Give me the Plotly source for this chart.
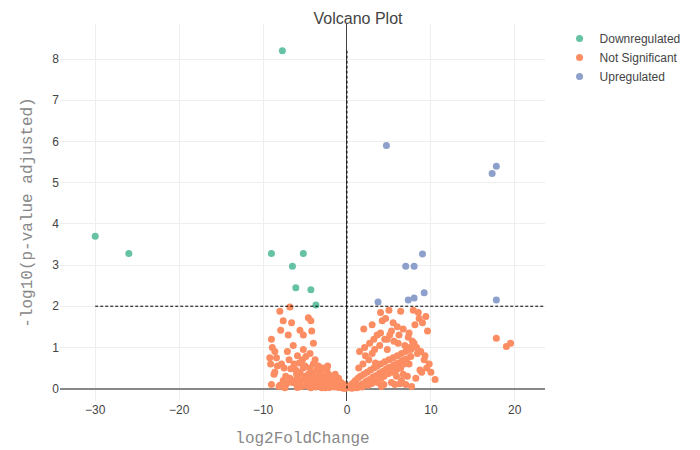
import plotly.graph_objects as go

down_x = [-7.7, -30, -26, -9, -5.2, -6.5, -6.1, -4.3, -3.7]
down_y = [8.2, 3.7, 3.28, 3.28, 3.28, 2.97, 2.45, 2.4, 2.03]
up_x = [4.7, 17.8, 17.3, 9.0, 7.0, 8.0, 9.2, 8.0, 7.3, 3.7, 17.8]
up_y = [5.9, 5.4, 5.22, 3.27, 2.97, 2.97, 2.33, 2.2, 2.15, 2.1, 2.15]

ns_x = [-6.8, -8.0, -7.6, -6.6, -4.6, -4.3, -7.0, -7.9, -5.6, -5.2, -4.2, -9.0, -8.9, -8.6,
        -9.2, -8.3, -8.6, -7.3, -9.0, -8.1, -7.6, -5.2, -5.9, -6.3, -4.0, -4.4, -3.8, -6.4,
        -7.1, -8.4, -7.8, -6.1, -5.0, -4.6, -3.6, -3.2, -2.8, -2.4, -2.0, -1.6, -1.2, -0.8,
        -0.5, -0.3, -5.5, -5.0, -4.5, -4.0, -3.5, -3.0, -2.5, -2.0, -1.5, -1.0, -0.6,
        -6.0, -5.6, -5.2, -4.8, -4.4, -4.0, -3.6, -3.2, -2.8, -2.4, -2.0, -1.6, -1.2, -0.8,
        -6.5, -6.0, -5.4, -4.9, -4.3, -3.7, -3.1, -2.6, -2.1, -1.7, -1.3, -0.9, -0.4, -0.2,
        -8.0, -7.2, -6.8, -5.8, -3.9, -3.3, -2.7, -2.2, -1.8, -1.4, -1.0, -0.7, -0.3, -0.1,
        -9.1, -8.7, -7.5, -6.9, -6.2, -5.3, -4.7, -4.1,
        -5.7, -4.9, -3.4, -2.9, -6.7, -7.4, -3.0, -4.5, -5.9, -2.3,
        0.1, 0.3, 0.5, 0.8, 1.0, 1.3, 1.6, 2.0, 2.4, 2.8, 3.2, 3.6, 4.0, 4.5, 5.0, 5.5,
        6.0, 6.5, 7.0, 7.5, 8.0, 0.4, 0.9, 1.4, 1.9, 2.3, 2.7, 3.1, 3.5, 3.9, 4.3, 4.7,
        5.1, 5.6, 6.1, 6.6, 7.1, 7.6, 0.6, 1.1, 1.7, 2.2, 2.6, 3.0, 3.4, 3.8, 4.2, 4.6,
        5.2, 5.8, 6.3, 6.8, 1.2, 1.8, 2.5, 2.9, 3.3, 3.7, 4.1, 4.4, 4.9, 5.4, 5.9, 6.4,
        1.5, 2.1, 2.7, 3.2, 3.6, 4.0, 4.8, 5.3, 6.2, 7.3, 7.8, 8.3, 8.8, 9.3,
        2.0, 3.0, 4.2, 4.6, 5.5, 6.0, 6.7, 7.4, 8.1, 8.6, 9.0, 9.6,
        3.3, 3.9, 4.5, 5.1, 6.1, 6.9, 7.6, 8.4, 9.2, 9.8,
        3.7, 4.4, 5.7, 6.5, 7.2, 8.2, 8.9, 9.5, 10.5, 10.0,
        4.0, 5.0, 6.4, 7.9, 8.5, 9.4, 17.8, 19.5, 19.0, 7.0,
        2.6, 3.4, 4.8, 5.3, 6.7, 7.7, 1.4, 2.2, 5.9, 6.3, 4.1, 3.0, 7.4, 8.7, 1.9, 5.6]
ns_y = [1.98, 1.88, 1.65, 1.6, 1.72, 1.65, 1.3, 1.42, 1.42, 1.3, 1.4, 1.2, 1.0, 0.9,
        0.75, 0.55, 0.4, 0.3, 0.1, 0.05, 0.2, 0.95, 0.8, 0.6, 1.1, 0.85, 0.7, 1.05,
        0.9, 0.75, 0.6, 0.45, 0.55, 0.35, 0.45, 0.35, 0.3, 0.25, 0.2, 0.15, 0.1, 0.08,
        0.05, 0.02, 0.2, 0.3, 0.15, 0.25, 0.12, 0.18, 0.1, 0.06, 0.04, 0.03, 0.02,
        0.35, 0.4, 0.5, 0.22, 0.5, 0.6, 0.28, 0.4, 0.5, 0.45, 0.3, 0.25, 0.18, 0.12,
        0.15, 0.1, 0.05, 0.08, 0.02, 0.04, 0.06, 0.02, 0.03, 0.08, 0.05, 0.04, 0.01, 0.01,
        0.08, 0.12, 0.25, 0.32, 0.15, 0.22, 0.12, 0.35, 0.22, 0.35, 0.25, 0.15, 0.1, 0.05,
        0.6, 0.35, 0.5, 0.7, 0.2, 0.7, 0.25, 0.38,
        0.62, 0.78, 0.55, 0.48, 0.48, 0.02, 0.02, 0.05, 0.03, 0.55,
        0.02, 0.05, 0.1, 0.15, 0.2, 0.25, 0.3, 0.35, 0.4, 0.45, 0.5, 0.55, 0.6, 0.65, 0.7, 0.75,
        0.8, 0.85, 0.9, 1.0, 1.1, 0.02, 0.05, 0.08, 0.12, 0.18, 0.22, 0.28, 0.32, 0.38, 0.42, 0.48,
        0.52, 0.58, 0.62, 0.68, 0.72, 0.78, 0.01, 0.03, 0.06, 0.1, 0.14, 0.2, 0.24, 0.3, 0.34, 0.4,
        0.44, 0.5, 0.55, 0.6, 0.02, 0.04, 0.08, 0.12, 0.16, 0.22, 0.26, 0.3, 0.36, 0.4, 0.46, 0.5,
        0.9, 1.0, 1.1, 1.2, 1.3, 1.35, 1.2, 1.4, 1.3, 1.25, 1.15, 1.0, 0.9, 0.8,
        1.45, 1.55, 1.65, 1.7, 1.6, 1.5, 1.45, 1.35, 1.55, 1.7, 1.6, 1.4,
        0.95, 1.05, 1.2, 1.3, 1.1, 1.05, 0.95, 0.85, 0.7, 0.6,
        0.15, 0.1, 0.1, 0.2, 0.3, 0.25, 0.4, 0.5, 0.22, 0.4,
        1.85, 1.9, 1.88, 1.9, 1.85, 1.75, 1.22, 1.1, 1.02, 0.1,
        0.7, 0.62, 0.95, 0.15, 0.35, 0.05, 0.5, 0.8, 0.3, 0.12, 0.05, 0.85, 0.6, 0.45, 0.6, 1.15]

mk = dict(size=7)
fig = go.Figure()
fig.add_trace(go.Scatter(x=down_x, y=down_y, mode="markers", name="Downregulated",
                         marker=dict(color="#66c2a5", **mk)))
fig.add_trace(go.Scatter(x=ns_x, y=ns_y, mode="markers", name="Not Significant",
                         marker=dict(color="#fc8d62", **mk)))
fig.add_trace(go.Scatter(x=up_x, y=up_y, mode="markers", name="Upregulated",
                         marker=dict(color="#8da0cb", **mk)))

fig.add_shape(type="line", x0=-30, x1=23.6, y0=2, y1=2, line=dict(color="black", width=1, dash="3px,2px"))
fig.add_shape(type="line", x0=0, x1=0, y0=0, y1=8.2, line=dict(color="black", width=1, dash="3px,2px"))

fig.update_layout(
    width=700, height=450, template="plotly_white",
    margin=dict(l=52, r=163, t=16, b=57),
    title=dict(text="Volcano Plot", x=0.5, xanchor="center", y=0.99, font=dict(size=16, color="#444", family="Arial")),
    font=dict(family="Arial", size=12, color="#444"),
    legend=dict(x=1.03, y=1.0, font=dict(size=12)),
    xaxis=dict(title=dict(text="log2FoldChange", font=dict(family="Liberation Mono", size=16, color="#888")),
               range=[-34.2, 23.6], tickvals=[-30, -20, -10, 0, 10, 20], zeroline=True,
               zerolinecolor="#444", zerolinewidth=1, gridcolor="#eee"),
    yaxis=dict(title=dict(text="-log10(p-value adjusted)", font=dict(family="Liberation Mono", size=16, color="#888")),
               range=[-0.3, 8.85], tickvals=list(range(9)), zeroline=True,
               zerolinecolor="#888", zerolinewidth=2, gridcolor="#eee"),
)
fig.write_html("out.html")
